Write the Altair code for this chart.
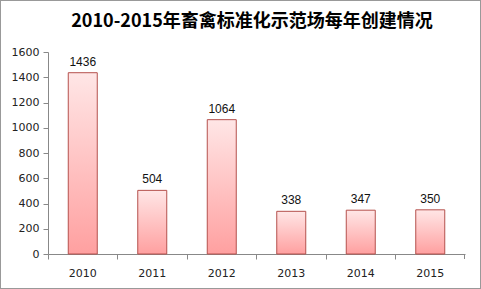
import altair as alt
import pandas as pd

years = ["2010", "2011", "2012", "2013", "2014", "2015"]
counts = [1436, 504, 1064, 338, 347, 350]
y_tick_count = 8
title_text = "2010-2015年畜禽标准化示范场每年创建情况"

df = pd.DataFrame({"year": years, "count": counts})

W, H = 417, 202
PL, PT, PR, PB = 48, 52, 16, 35

x = alt.X("year:N", sort=years, title=None,
          scale=alt.Scale(paddingInner=0.0, paddingOuter=0.0),
          axis=alt.Axis(labelAngle=0, labelFont="DejaVu Sans", labelFontSize=11,
                        labelColor="#222", labelPadding=8, domainColor="#888",
                        tickColor="#888", tickSize=5, bandPosition=0, grid=False))
y = alt.Y("count:Q", title=None,
          scale=alt.Scale(domain=[0, 1600], nice=False),
          axis=alt.Axis(tickCount=y_tick_count, format="d", labelOverlap=False,
                        labelFlush=False, labelBound=False,
                        labelFont="DejaVu Sans", labelFontSize=11,
                        labelColor="#222", labelPadding=4, domainColor="#888",
                        tickColor="#888", tickSize=5, grid=False))

grad = alt.Gradient(gradient="linear", x1=0, y1=0, x2=0, y2=1,
                    stops=[alt.GradientStop(color="#ffe6e6", offset=0),
                           alt.GradientStop(color="#ffa0a0", offset=1)])

bars = alt.Chart(df).mark_bar(size=29, color=grad, stroke="#b5504c", strokeWidth=1).encode(x=x, y=y)

labels = alt.Chart(df).mark_text(dy=-11, font="Liberation Sans", fontSize=12, color="#111").encode(
    x=x, y=y, text="count:Q")

end_tick = alt.Chart(df).mark_rule(color="#888").encode(
    x=alt.value(W - 0.5), y=alt.value(H), y2=alt.value(H + 5))

border = alt.Chart(df).mark_rect(fill=None, stroke="#999", strokeWidth=1, clip=False).encode(
    x=alt.value(-PL + 0.5), x2=alt.value(W + PR - 0.5),
    y=alt.value(-PT + 0.5), y2=alt.value(H + PB - 0.5))

title = alt.Chart(pd.DataFrame({"t": [title_text]})).mark_text(
    font="Noto Sans CJK SC", fontSize=18, fontWeight="bold", color="#000",
    align="center", baseline="middle").encode(
    x=alt.value(252 - PL), y=alt.value(22 - PT), text="t:N")

chart = alt.layer(bars, labels, end_tick, border, title).properties(
    width=W, height=H,
    padding={"left": PL, "top": PT, "right": PR, "bottom": PB},
    autosize=alt.AutoSizeParams(type="none"),
    background="white",
).configure_view(stroke=None)

chart.save("out.html", embed_options={"renderer": "svg", "actions": False})
